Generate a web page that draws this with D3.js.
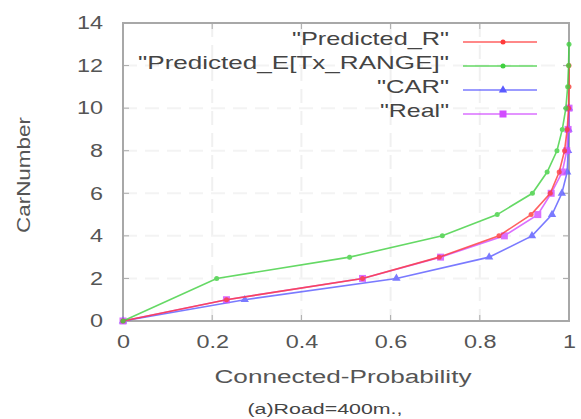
<!DOCTYPE html>
<html><head><meta charset="utf-8">
<script src="https://cdn.jsdelivr.net/npm/d3@7"></script>
<style>body{margin:0;background:#fff}svg{display:block}text{font-family:"Liberation Sans",Arial,sans-serif}</style>
</head><body><svg id="c" width="581" height="419"></svg>
<script>
const xTicks=[0,0.2,0.4,0.6,0.8,1];
const xTickLabels=["0","0.2","0.4","0.6","0.8","1"];
const yTicks=[0,2,4,6,8,10,12,14];
const seriesNames=['"Predicted_R"','"Predicted_E[Tx_RANGE]"','"CAR"','"Real"'];
const predR_x=[0,0.232,0.537,0.709,0.843,0.915,0.958,0.978,0.99,0.996,0.999,1.0,1.0];
const predR_y=[0,1,2,3,4,5,6,7,8,9,10,11,12];
const predE_x=[0,0.21,0.508,0.716,0.839,0.918,0.951,0.973,0.985,0.993,0.997,0.999,1.0];
const predE_y=[0,2,3,4,5,6,7,8,9,10,11,12,13];
const car_x=[0,0.273,0.613,0.821,0.917,0.962,0.984,0.996,0.998,0.999,1.0];
const car_y=[0,1,2,3,4,5,6,7,8,9,10];
const real_x=[0,0.232,0.537,0.712,0.855,0.93,0.96,0.985,0.995,0.998,1.0];
const real_y=[0,1,2,3,4,5,6,7,8,9,10];

const colors=["#ff3a3a","#3fd03f","#5a5aff","#d24cff"];
const markers=["circle","circle","triangle","square"];
const series=[[predR_x,predR_y],[predE_x,predE_y],[car_x,car_y],[real_x,real_y]];

const svg=d3.select("#c");
const L=123,R=569,T=23,B=321;
const x=d3.scaleLinear().domain([0,1]).range([L,R]);
const y=d3.scaleLinear().domain([0,14]).range([B,T]);

function stretch(sel,f){sel.each(function(){const w=this.getComputedTextLength();d3.select(this).attr("textLength",w*f).attr("lengthAdjust","spacingAndGlyphs");});}

// grid
const g=svg.append("g");
g.selectAll(".gx").data(xTicks.slice(1,-1)).enter().append("line")
 .attr("x1",d=>x(d)).attr("x2",d=>x(d)).attr("y1",T).attr("y2",B)
 .attr("stroke","#f0f0f0").attr("stroke-width",2).attr("stroke-dasharray","14,8");
g.selectAll(".gy").data(yTicks.slice(1,-1)).enter().append("line")
 .attr("x1",L).attr("x2",R).attr("y1",d=>y(d)).attr("y2",d=>y(d))
 .attr("stroke","#f3f3f3").attr("stroke-width",2).attr("stroke-dasharray","14,8");

// axes
const ax=svg.append("g").attr("transform",`translate(0,${B})`)
 .call(d3.axisBottom(x).tickValues(xTicks).tickFormat((d,i)=>xTickLabels[i]).tickSize(0).tickPadding(14));
const ay=svg.append("g").attr("transform",`translate(${L},0)`)
 .call(d3.axisLeft(y).tickValues(yTicks).tickSize(0).tickPadding(20));
[ax,ay].forEach(a=>{a.select(".domain").remove();a.selectAll("text").attr("font-size",18).attr("fill","#555").attr("font-family","Liberation Sans, Arial, sans-serif");});
ax.selectAll("text").call(stretch,1.3);
ay.selectAll("text").call(stretch,1.3);
// inner tick marks
const tk=svg.append("g").attr("stroke","#aaa").attr("stroke-width",1);
xTicks.forEach(d=>{tk.append("line").attr("x1",x(d)).attr("x2",x(d)).attr("y1",B).attr("y2",B-6);
 tk.append("line").attr("x1",x(d)).attr("x2",x(d)).attr("y1",T).attr("y2",T+6);});
yTicks.forEach(d=>{tk.append("line").attr("x1",L).attr("x2",L+6).attr("y1",y(d)).attr("y2",y(d));
 tk.append("line").attr("x1",R).attr("x2",R-6).attr("y1",y(d)).attr("y2",y(d));});
// frame
svg.append("rect").attr("x",L).attr("y",T).attr("width",R-L).attr("height",B-T)
 .attr("fill","none").attr("stroke","#a8a8a8").attr("stroke-width",2);

function marker(sel,type,cx,cy,col){
 if(type==="circle") sel.append("circle").attr("cx",cx).attr("cy",cy).attr("r",2.5).attr("fill",col);
 else if(type==="triangle") sel.append("path").attr("d",d3.symbol(d3.symbolTriangle,30)()).attr("transform",`translate(${cx},${cy})`).attr("fill",col);
 else sel.append("rect").attr("x",cx-3.5).attr("y",cy-3.5).attr("width",7).attr("height",7).attr("fill",col);
}
const line=d3.line().x(d=>x(d[0])).y(d=>y(d[1]));
const order=[2,3,0,1];
order.forEach(i=>{
 const pts=series[i][0].map((v,k)=>[v,series[i][1][k]]);
 const gs=svg.append("g").attr("opacity",0.8);
 gs.append("path").datum(pts).attr("d",line).attr("fill","none").attr("stroke",colors[i]).attr("stroke-width",1.6);
 pts.forEach(p=>marker(gs,markers[i],x(p[0]),y(p[1]),colors[i]));
});

// legend
const lg=svg.append("g");
const ly=[38,62,86,110];
const legW=[157,311,72,69];
seriesNames.forEach((n,i)=>{
 lg.append("text").attr("x",449).attr("y",ly[i]).attr("dy","0.35em").attr("text-anchor","end")
  .attr("font-size",19).attr("fill","#444").attr("textLength",legW[i]).attr("lengthAdjust","spacingAndGlyphs").text(n);
 lg.append("line").attr("x1",463).attr("x2",537).attr("y1",ly[i]+4).attr("y2",ly[i]+4)
  .attr("stroke",colors[i]).attr("stroke-width",1.6).attr("opacity",0.8);
 marker(lg,markers[i],503,ly[i]+4,colors[i]);
});

svg.append("text").attr("x",343).attr("y",383).attr("text-anchor","middle").attr("font-size",18).attr("fill","#555")
 .attr("textLength",257).attr("lengthAdjust","spacingAndGlyphs").text("Connected-Probability");
svg.append("text").attr("transform","translate(30,175) rotate(-90)").attr("text-anchor","middle").attr("font-size",18).attr("fill","#555")
 .attr("textLength",116).attr("lengthAdjust","spacingAndGlyphs").text("CarNumber");
svg.append("text").attr("x",325).attr("y",414).attr("text-anchor","middle").attr("font-size",14).attr("fill","#444")
 .attr("textLength",155).attr("lengthAdjust","spacingAndGlyphs").text("(a)Road=400m.,");
</script></body></html>
